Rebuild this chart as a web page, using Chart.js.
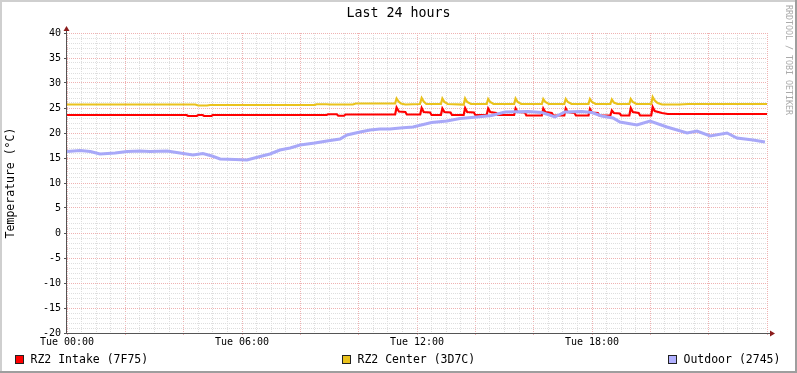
<!DOCTYPE html>
<html><head><meta charset="utf-8">
<script src="https://cdn.jsdelivr.net/npm/chart.js@4/dist/chart.umd.min.js"></script>
<style>
html,body{margin:0;padding:0;background:#fff;}
#wrap{position:relative;width:797px;height:373px;overflow:hidden;}
#c{position:absolute;left:0;top:0;}
.leg{position:absolute;top:352px;height:14px;display:flex;align-items:center;font:11.5px 'DejaVu Sans Mono',monospace;color:#000;white-space:nowrap;}
.box{display:inline-block;width:7px;height:7px;border:1px solid #222;margin-right:6.5px;}
#wm{position:absolute;left:784px;top:5px;writing-mode:vertical-rl;font:8.3px 'DejaVu Sans Mono',monospace;color:#AAAAAA;line-height:10px;white-space:nowrap;}
</style></head>
<body>
<div id="wrap">
<canvas id="c" width="797" height="373"></canvas>
<div class="leg" style="left:15px"><span class="box" style="background:#FF0000"></span>RZ2 Intake (7F75)</div>
<div class="leg" style="left:342px"><span class="box" style="background:#EAC21C"></span>RZ2 Center (3D7C)</div>
<div class="leg" style="left:668px"><span class="box" style="background:#B0B0FF"></span>Outdoor (2745)</div>
<div id="wm">RRDTOOL / TOBI OETIKER</div>
</div>
<script>
// ---- data (hours since Tue 00:00) ----
const xTickHours = [0, 6, 12, 18];
const xTickLabels = ['Tue 00:00', 'Tue 06:00', 'Tue 12:00', 'Tue 18:00'];

const intakeTimes = [0.0, 4.1, 4.15, 4.45, 4.5, 4.65, 4.7, 4.95, 5.0, 8.9, 8.95, 9.25, 9.3, 9.5, 9.55, 11.25,
  11.30, 11.38, 11.6, 11.65, 12.11, 12.16, 12.23, 12.45, 12.5, 12.82, 12.87, 12.94, 13.15, 13.2,
  13.60, 13.65, 13.72, 13.95, 14.0, 14.39, 14.44, 14.51, 14.72, 14.77, 15.33, 15.38, 15.45, 15.7, 15.75,
  16.28, 16.33, 16.40, 16.62, 16.67, 17.05, 17.10, 17.17, 17.4, 17.45, 17.88, 17.93, 18.00, 18.2, 18.25,
  18.63, 18.68, 18.75, 18.95, 19.0, 19.28, 19.33, 19.40, 19.6, 19.65, 20.03, 20.08, 20.15, 20.4, 20.6, 21.0, 24.0];
const intakeValues = [23.6, 23.6, 23.4, 23.4, 23.6, 23.6, 23.4, 23.4, 23.6, 23.6, 23.75, 23.75, 23.45, 23.45, 23.7, 23.7,
  25.1, 24.3, 24.2, 23.7, 23.7, 25.0, 24.2, 24.1, 23.6, 23.6, 24.9, 24.2, 24.1, 23.6,
  23.6, 25.0, 24.2, 24.1, 23.6, 23.6, 24.9, 24.2, 24.0, 23.6, 23.6, 24.9, 24.2, 24.1, 23.5,
  23.5, 24.9, 24.2, 24.0, 23.5, 23.5, 24.9, 24.2, 24.0, 23.5, 23.5, 24.8, 24.1, 24.0, 23.5,
  23.5, 24.5, 24.0, 23.9, 23.5, 23.5, 25.0, 24.2, 24.0, 23.5, 23.5, 25.2, 24.4, 24.0, 23.8, 23.8, 23.8];

const centerTimes = [0.0, 4.4, 4.5, 4.8, 4.9, 8.5, 8.55, 8.9, 9.0, 9.8, 9.9, 11.25,
  11.30, 11.37, 11.45, 11.6, 12.1, 12.16, 12.23, 12.32, 12.82, 12.87, 12.94, 13.05,
  13.60, 13.65, 13.72, 13.85, 14.39, 14.44, 14.51, 14.62, 15.33, 15.38, 15.45, 15.57,
  16.28, 16.33, 16.40, 16.52, 17.05, 17.10, 17.17, 17.30, 17.88, 17.93, 18.00, 18.12,
  18.63, 18.68, 18.75, 18.87, 19.28, 19.33, 19.40, 19.52, 20.03, 20.08, 20.15, 20.25, 20.40, 21.0, 21.3, 24.0];
const centerValues = [25.7, 25.7, 25.5, 25.5, 25.6, 25.6, 25.75, 25.75, 25.7, 25.7, 25.9, 25.9,
  26.9, 26.3, 25.9, 25.7, 25.8, 27.0, 26.3, 25.8, 25.8, 26.9, 26.2, 25.8,
  25.7, 26.9, 26.2, 25.8, 25.8, 26.8, 26.2, 25.8, 25.8, 26.9, 26.2, 25.8,
  25.8, 26.8, 26.2, 25.8, 25.8, 26.8, 26.2, 25.8, 25.8, 26.8, 26.2, 25.8,
  25.8, 26.7, 26.1, 25.8, 25.8, 26.8, 26.2, 25.8, 25.8, 27.2, 26.5, 26.0, 25.7, 25.7, 25.8, 25.8];

const outdoorTimes = [0.0, 0.45, 0.8, 1.13, 1.65, 2.06, 2.5, 2.85, 3.43, 3.87, 4.32, 4.66, 4.97, 5.25, 5.76, 6.17,
  6.62, 6.96, 7.30, 7.65, 7.99, 8.5, 8.91, 9.36, 9.6, 10.05, 10.39, 10.73, 11.07, 11.42, 11.86, 12.5,
  13.03, 13.47, 14.06, 14.56, 15.02, 15.81, 16.28, 16.73, 17.07, 17.65, 17.99, 18.33, 18.72, 18.96,
  19.54, 19.99, 20.57, 21.26, 21.6, 22.05, 22.63, 22.97, 23.52, 23.93];
const outdoorValues = [16.3, 16.5, 16.3, 15.8, 16.0, 16.3, 16.4, 16.3, 16.4, 16.0, 15.6, 15.9, 15.4, 14.8, 14.7, 14.6,
  15.3, 15.8, 16.6, 17.0, 17.6, 18.0, 18.4, 18.8, 19.6, 20.2, 20.6, 20.8, 20.8, 21.0, 21.2, 22.1,
  22.4, 22.9, 23.2, 23.5, 24.2, 24.3, 24.1, 23.2, 24.2, 24.3, 24.1, 23.4, 23.0, 22.2,
  21.6, 22.4, 21.2, 20.0, 20.4, 19.4, 20.0, 19.0, 18.6, 18.2];

const pts = (ts, vs) => ts.map((t, i) => ({x: t, y: vs[i]}));

const MINOR = '#DEDEDE', MAJOR = '#EFB2B2';

const framePlugin = {
  id: 'frame',
  beforeDraw(chart) {
    const ctx = chart.ctx;
    ctx.save();
    ctx.fillStyle = '#FFFFFF'; ctx.fillRect(0, 0, 797, 373);
    ctx.fillStyle = '#CFCFCF'; ctx.fillRect(0, 0, 797, 2); ctx.fillRect(0, 0, 2, 373);
    ctx.fillStyle = '#9E9E9E'; ctx.fillRect(0, 371, 797, 2); ctx.fillRect(795, 0, 2, 373);
    ctx.restore();
  },
  afterDatasetsDraw(chart) {
    const ctx = chart.ctx; const a = chart.chartArea;
    ctx.save();
    ctx.strokeStyle = '#555'; ctx.lineWidth = 1;
    ctx.beginPath();
    ctx.moveTo(a.left - 0.5, a.bottom + 0.5); ctx.lineTo(a.left - 0.5, a.top - 3);
    ctx.moveTo(a.left - 1, a.bottom + 0.5); ctx.lineTo(a.right + 4, a.bottom + 0.5);
    ctx.stroke();
    ctx.fillStyle = '#8B1C1C';
    ctx.beginPath();
    ctx.moveTo(a.left - 0.5, a.top - 7); ctx.lineTo(a.left - 3.5, a.top - 2); ctx.lineTo(a.left + 2.5, a.top - 2); ctx.closePath();
    ctx.fill();
    ctx.beginPath();
    ctx.moveTo(a.right + 8, a.bottom + 0.5); ctx.lineTo(a.right + 3, a.bottom - 2.5); ctx.lineTo(a.right + 3, a.bottom + 3.5); ctx.closePath();
    ctx.fill();
    ctx.restore();
  }
};

Chart.defaults.font.family = "'DejaVu Sans Mono', monospace";
Chart.defaults.color = '#000';

new Chart(document.getElementById('c'), {
  type: 'line',
  data: {
    datasets: [
      {label: 'RZ2 Intake (7F75)', data: pts(intakeTimes, intakeValues), borderColor: '#FF0000', borderWidth: 2.2, order: 3},
      {label: 'RZ2 Center (3D7C)', data: pts(centerTimes, centerValues), borderColor: '#EAC21C', borderWidth: 2.2, order: 2},
      {label: 'Outdoor (2745)', data: pts(outdoorTimes, outdoorValues), borderColor: '#A8A8F8', borderWidth: 3, order: 1}
    ]
  },
  options: {
    responsive: false,
    animation: false,
    devicePixelRatio: 1,
    layout: {padding: {left: 0, right: 0, top: 0, bottom: 0}},
    elements: {point: {radius: 0}, line: {tension: 0, borderCapStyle: 'butt'}},
    plugins: {
      legend: {display: false},
      tooltip: {enabled: false},
      title: {display: true, text: 'Last 24 hours', color: '#000',
        font: {family: "'DejaVu Sans Mono', monospace", size: 13.3, weight: 'normal', lineHeight: '16px'},
        padding: {top: 6, bottom: 11}}
    },
    scales: {
      x: {
        type: 'linear', min: 0, max: 24,
        afterFit: s => { s.height = 40; },
        ticks: {stepSize: 0.5, autoSkip: false, maxRotation: 0, padding: 1, font: {size: 10},
          callback: v => { const i = xTickHours.indexOf(v); return i >= 0 ? xTickLabels[i] : ''; }},
        grid: {lineWidth: 1, tickLength: 2,
          color: c => (c.tick && c.tick.value % 2 === 0) ? MAJOR : MINOR,
          tickColor: c => (c.tick && c.tick.value % 2 === 0) ? MAJOR : 'rgba(0,0,0,0)'},
        border: {display: false, dash: [1, 1]}
      },
      y: {
        type: 'linear', min: -20, max: 40,
        afterFit: s => { s.width = 67; },
        title: {display: true, text: 'Temperature (°C)', color: '#000',
          font: {size: 11.5}, padding: {top: 4, bottom: 0}},
        ticks: {stepSize: 1, autoSkip: false, padding: 3, font: {size: 10},
          callback: v => (v % 5 === 0 ? String(v) : '')},
        grid: {lineWidth: 1, tickLength: 3,
          color: c => (c.tick && c.tick.value % 5 === 0) ? MAJOR : MINOR,
          tickColor: c => (c.tick && c.tick.value % 5 === 0) ? '#555' : 'rgba(0,0,0,0)'},
        border: {display: false, dash: [1, 1]}
      },
      yr: {
        type: 'linear', position: 'right', display: true,
        afterFit: s => { s.width = 30; },
        ticks: {display: false},
        grid: {display: false, drawOnChartArea: false},
        border: {display: false}
      }
    }
  },
  plugins: [framePlugin]
});
</script>
</body></html>
